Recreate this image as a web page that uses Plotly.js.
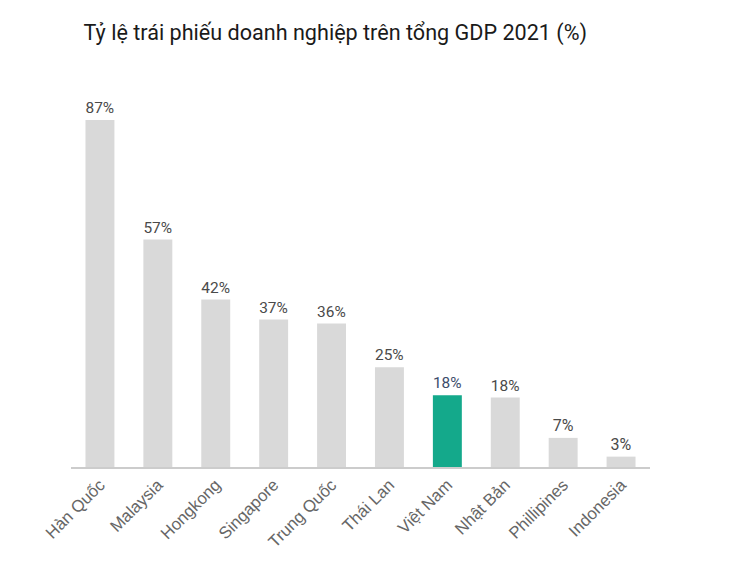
<!DOCTYPE html>
<html>
<head>
<meta charset="utf-8">
<script src="https://cdn.plot.ly/plotly-3.0.1.min.js"></script>
<style>html,body{margin:0;padding:0;background:#fff;}#chart{width:750px;height:588px;}</style>
</head>
<body>
<div id="chart"></div>
<script>
const countries = ["Hàn Quốc","Malaysia","Hongkong","Singapore","Trung Quốc","Thái Lan","Việt Nam","Nhật Bản","Phillipines","Indonesia"];
const values = [87, 57, 42, 37, 36, 25, 18, 17.4, 7.3, 2.6];
const valueLabels = ["87%","57%","42%","37%","36%","25%","18%","18%","7%","3%"];
const highlight = "Việt Nam";

const barColors = countries.map(c => c === highlight ? "#14a98b" : "#d9d9d9");
const labelColors = countries.map(c => c === highlight ? "#3c4d6b" : "#4a4a4a");

const trace = {
  type: "bar",
  x: countries,
  y: values,
  text: valueLabels,
  textposition: "outside",
  cliponaxis: false,
  textfont: {family: "Roboto, sans-serif", size: 16, color: labelColors},
  marker: {color: barColors},
  hoverinfo: "skip"
};

const layout = {
  width: 750, height: 588,
  paper_bgcolor: "#fff", plot_bgcolor: "#fff",
  margin: {l: 71, r: 100, t: 100, b: 121},
  bargap: 0.5,
  showlegend: false,
  title: {
    text: "Tỷ lệ trái phiếu doanh nghiệp trên tổng GDP 2021 (%)",
    font: {family: "Roboto, sans-serif", size: 21.6, color: "#1a1a1a"},
    x: 0.447, xanchor: "center", xref: "container",
    y: 0.944, yanchor: "middle", yref: "container"
  },
  xaxis: {
    type: "category",
    tickangle: -45,
    showline: true, linecolor: "#cccccc", linewidth: 1.5,
    ticks: "", showgrid: false,
    tickfont: {family: "Liberation Sans, Arial, sans-serif", size: 16.8, color: "#666"}
  },
  yaxis: {
    range: [0, 92],
    visible: false, showgrid: false, zeroline: false
  }
};

Plotly.newPlot("chart", [trace], layout, {displayModeBar: false, staticPlot: true});
</script>
</body>
</html>
